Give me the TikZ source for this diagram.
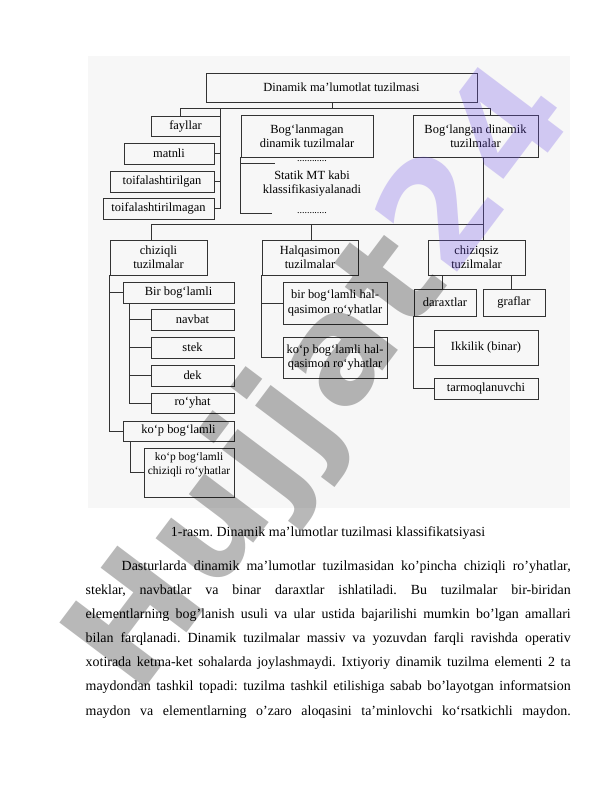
\documentclass[tikz,border=0pt]{standalone}
\usepackage{fontspec}
\setmainfont{Liberation Serif}
\newfontfamily\wmfont{DejaVu Sans}[LetterSpace=3]
\usetikzlibrary{positioning}
\frenchspacing

\definecolor{wmlilac}{RGB}{110,80,230}
\newcommand{\boxfont}{\fontsize{12.5}{14.5}\selectfont}
\newcommand{\smallboxfont}{\fontsize{11.5}{14}\selectfont}
\newcommand{\dotfont}{\fontsize{10}{12}\selectfont}
\newcommand{\jline}[1]{\makebox[485bp][s]{#1}}

\tikzset{
    box/.style={draw=black!80, line width=0.7bp, inner sep=0pt, align=center, font=\boxfont},
    link/.style={draw=black!80, line width=0.7bp},
    watermark/.style={font=\wmfont\bfseries\fontsize{148}{148}\selectfont, text=black, text opacity=0.28, inner sep=0pt}
}

\begin{document}
\begin{tikzpicture}[x=1bp, y=-1bp]
                \useasboundingbox (0,0) rectangle (612,792);
                \fill[black!3] (88,56) rectangle (570,508);

                % first level
                \node[box, minimum width=271bp, minimum height=29bp] (root) at (341.5,87.5) {Dinamik ma’lumotlat tuzilmasi};
                \node[box, minimum width=69bp, minimum height=20bp] (fayllar) at (185.5,126) {fayllar};
                \node[box, minimum width=90bp, minimum height=21bp] (matnli) at (169,153.5) {matnli};
                \node[box, minimum width=104bp, minimum height=21bp] (toifa1) at (162,181.5) {toifalashtirilgan};
                \node[box, minimum width=111bp, minimum height=21bp] (toifa2) at (158.5,208.5) {toifalashtirilmagan};
                \node[box, minimum width=132bp, minimum height=42bp] (boglanmagan) at (307,136) {Bog‘lanmagan\\dinamik tuzilmalar};
                \node[box, minimum width=125bp, minimum height=42bp] (boglangan) at (475.5,136) {Bog‘langan dinamik\\tuzilmalar};

                \node[font=\dotfont, anchor=base] (dotsup) at (312,161.5) {............};
                \node[align=center, font=\boxfont] (statik) at (312,183.5) {Statik MT kabi\\klassifikasiyalanadi};
                \node[font=\dotfont, anchor=base] (dotsdown) at (312,213) {............};

                % second level
                \node[box, minimum width=97bp, minimum height=35bp] (chiziqli) at (158.5,257.5) {chiziqli\\tuzilmalar};
                \node[box, minimum width=111bp, minimum height=21bp] (birbog) at (178.5,292.5) {Bir bog‘lamli};
                \node[box, minimum width=83bp, minimum height=21bp] (navbat) at (192.5,319.5) {navbat};
                \node[box, minimum width=83bp, minimum height=21bp] (stek) at (192.5,347.5) {stek};
                \node[box, minimum width=83bp, minimum height=21bp] (dek) at (192.5,375.5) {dek};
                \node[box, minimum width=83bp, minimum height=20bp] (royhat) at (192.5,403) {ro‘yhat};
                \node[box, minimum width=111bp, minimum height=20bp] (kopbog) at (178.5,431) {ko‘p bog‘lamli};
                \node[box, minimum width=90bp, minimum height=49bp, label={[name=kopchiz-t, align=center, font=\smallboxfont, anchor=north, yshift=-1bp]north:{ko‘p bog‘lamli\\chiziqli ro‘yhatlar}}] (kopchiz) at (189,472.5) {};

                \node[box, minimum width=96bp, minimum height=35bp] (halqa) at (310,257.5) {Halqasimon\\tuzilmalar};
                \node[box, minimum width=104bp, minimum height=42bp] (birhal) at (335,303) {bir bog‘lamli hal-\\qasimon ro‘yhatlar};
                \node[box, minimum width=104bp, minimum height=41bp] (kophal) at (335,357.5) {ko‘p bog‘lamli hal-\\qasimon ro‘yhatlar};

                \node[box, minimum width=97bp, minimum height=35bp] (chiziqsiz) at (476.5,257.5) {chiziqsiz\\tuzilmalar};
                \node[box, minimum width=62bp, minimum height=27bp] (daraxt) at (445,302.5) {daraxtlar};
                \node[box, minimum width=62bp, minimum height=27bp] (graf) at (514,302.5) {graflar};
                \node[box, minimum width=104bp, minimum height=35bp] (ikkilik) at (486,347.5) {Ikkilik (binar)};
                \node[box, minimum width=104bp, minimum height=21bp] (tarmoq) at (486,388.5) {tarmoqlanuvchi};

                % connectors, top
                \coordinate (rootdrop) at (332,108);
                \coordinate (busA) at (180,108);
                \coordinate (busB) at (490,108);
                \coordinate (filesline) at (220,108);
                \draw[link] (root.south -| rootdrop) -- (rootdrop);
                \draw[link] (busA |- fayllar.north) -- (busA) -- (busB) -- (busB |- boglangan.north);
                \draw[link] (filesline) -- (filesline |- toifa2.east);
                \draw[link] (matnli.east) -- (matnli.east -| filesline);
                \draw[link] (toifa1.east) -- (toifa1.east -| filesline);
                \draw[link] (toifa2.east) -- (toifa2.east -| filesline);
                \draw[link] (boglanmagan.south west) -- ++(0,56) -- ++(31,0);
                \draw[link] ([yshift=-6bp]boglanmagan.south west) -- ++(34,0);

                % connectors, second level
                \coordinate (busC) at (151,224);
                \coordinate (busD) at (311,224);
                \coordinate (busE) at (483,224);
                \draw[link] (busE |- boglangan.south) -- (busE) -- (busC) -- (busC |- chiziqli.north);
                \draw[link] (busD) -- (busD |- halqa.north);
                \draw[link] (busE) -- (busE |- chiziqsiz.north);

                \draw[link] (chiziqli.south west) |- (kopbog.west);
                \draw[link] (birbog.west) -- (birbog.west -| chiziqli.south west);
                \coordinate (birstem) at ([xshift=7bp]birbog.south west);
                \draw[link] (birstem) |- (royhat.west);
                \draw[link] (navbat.west) -- (navbat.west -| birstem);
                \draw[link] (stek.west) -- (stek.west -| birstem);
                \draw[link] (dek.west) -- (dek.west -| birstem);
                \draw[link] ([xshift=8bp]kopbog.south west) |- (kopchiz.west);

                \draw[link] (halqa.south west) |- (kophal.west);
                \draw[link] (birhal.west) -- (birhal.west -| halqa.south west);

                \draw[link] ([xshift=-3bp]daraxt.north) -- ([xshift=-3bp]daraxt.north |- chiziqsiz.south);
                \draw[link] ([xshift=-3bp]graf.north) -- ([xshift=-3bp]graf.north |- chiziqsiz.south);
                \draw[link] (daraxt.south west) |- (tarmoq.west);
                \draw[link] (ikkilik.west) -- (ikkilik.west -| daraxt.south west);

                % caption and text
                \node[font=\fontsize{14}{17}\selectfont, anchor=base] (caption) at (328,536.5) {1-rasm. Dinamik ma’lumotlar tuzilmasi klassifikatsiyasi};
                \node[anchor=base west, inner sep=0pt, align=left, font=\fontsize{14}{24.15}\selectfont] (matn) at (85.5,715) {%
                    \jline{\hspace*{36bp}Dasturlarda dinamik ma’lumotlar tuzilmasidan ko’pincha chiziqli ro’yhatlar,}\\
                    \jline{steklar, navbatlar va binar daraxtlar ishlatiladi. Bu tuzilmalar bir-biridan}\\
                    \jline{elementlarning bog’lanish usuli va ular ustida bajarilishi mumkin bo’lgan amallari}\\
                    \jline{bilan farqlanadi. Dinamik tuzilmalar massiv va yozuvdan farqli ravishda operativ}\\
                    \jline{xotirada ketma-ket sohalarda joylashmaydi. Ixtiyoriy dinamik tuzilma elementi 2 ta}\\
                    \jline{maydondan tashkil topadi: tuzilma tashkil etilishiga sabab bo’layotgan informatsion}\\
                    \jline{maydon va elementlarning o’zaro aloqasini ta’minlovchi ko‘rsatkichli maydon.}};

                % watermark
                \node[watermark, rotate=53] (wm) at (325,382) {Hujjat\textcolor{wmlilac}{24}};
            \end{tikzpicture}
\end{document}
